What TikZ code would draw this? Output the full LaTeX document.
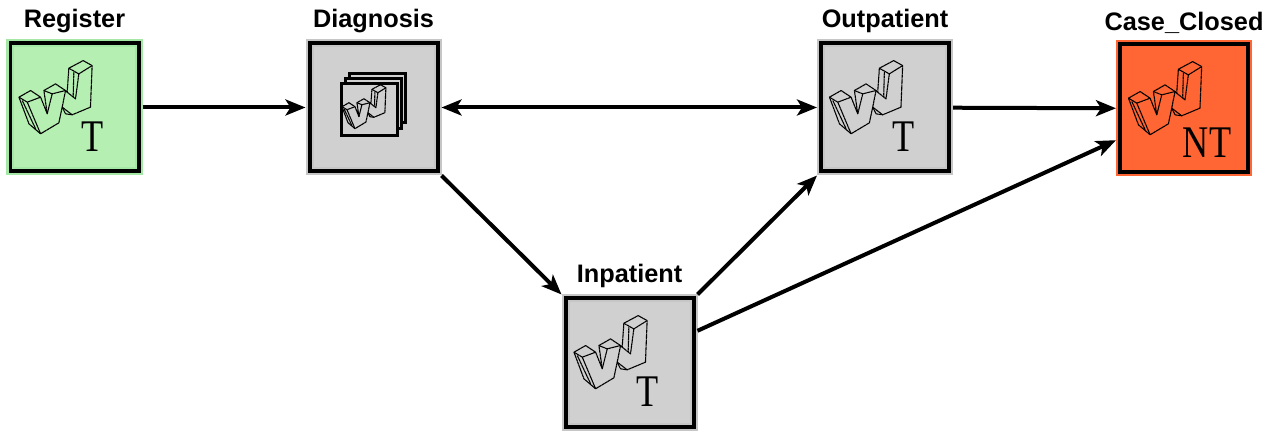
\documentclass[tikz,border=0pt]{standalone}
\usepackage{fontspec}
\setmainfont{Liberation Sans}
\newfontfamily\markfont{Liberation Serif}
\usetikzlibrary{arrows.meta, positioning}
\definecolor{taskgreen}{HTML}{B5EFB2}
\definecolor{taskedge}{HTML}{A5E8A5}
\definecolor{taskgrey}{HTML}{D0D0D0}
\definecolor{greyedge}{HTML}{C6C6C6}
\definecolor{taskorange}{HTML}{FF6633}

\tikzset{
    taskbox/.style={draw=#1, line width=0.02cm, double=black, double distance=0.04cm, rectangle, inner sep=0pt, outer sep=0.04cm, minimum size=1.28cm},
    tasklabel/.style={inner sep=0pt, font=\fontsize{7.2}{8}\selectfont\bfseries},
    typemark/.style={inner sep=0pt, font=\fontsize{10.3}{12}\markfont},
    flowtip/.tip={Stealth[length=0.2cm, width=0.16cm, inset=0.05cm]},
    flow/.style={line width=0.04cm, -flowtip},
    flowboth/.style={line width=0.04cm, flowtip-flowtip},
    wficon/.pic={
        \begin{scope}[x=0.00333cm, y=-0.00333cm, line width=0.011cm, line join=round, dash pattern=on 0.03cm off 0.004cm]
            % outline
            \draw (-167,-31) -- (-137,49) -- (-102,79) -- (-47,46) -- (-37,-1) -- (-7,22) -- (48,-1) -- (53,-126) -- (26,-141) -- (-17,-118) -- (-22,-46) -- (-27,-51) -- (-57,-71) -- (-92,-51) -- (-82,19) -- (-102,-31) -- (-132,-51) -- cycle;
            % left prong
            \draw (-167,-31) -- (-142,-16) -- (-102,-31);
            \draw (-142,-16) -- (-102,79);
            \draw (-157,-21) -- (-117,64);
            % middle prong
            \draw (-92,-51) -- (-67,-41) -- (-27,-51);
            \draw (-67,-41) -- (-82,19);
            \draw (-27,-51) -- (-37,-1);
            \draw (-37,-1) -- (-27,19) -- (-7,22);
            % right prong
            \draw (-17,-118) -- (13,-101) -- (53,-126);
            \draw (13,-101) -- (3,-26) -- (-22,-46);
            \draw (-2,-106) -- (-4,-31);
        \end{scope}
    },
    wfstack/.pic={
        \begin{scope}[x=0.00333cm, y=-0.00333cm, line width=0.03cm, line join=miter]
            \draw (-84,-71) |- (84,-87) -- (84,64) -- (71,64);
            \draw (-71,-87) |- (96,-103) -- (96,44) -- (84,44);
            \draw (-96,-71) rectangle (71,84);
        \end{scope}
        \pic[scale=0.6, xshift=0.03cm, yshift=-0.09cm] {wficon};
    }
}

\begin{document}
\begin{tikzpicture}
    \useasboundingbox (0,0) rectangle (12.83,-4.31);

    % Box for Register
    \node[taskbox=taskedge, fill=taskgreen] (Register) at (0.745,-1.075) {};
    \pic at (Register) {wficon};
    \node[typemark] (RegisterType) at (0.93,-1.37) {\scalebox{1}[1.25]{T}};
    \node[tasklabel, above=0.06cm of Register] (RegisterLabel) {Register};

    % Box for Diagnosis
    \node[taskbox=greyedge, fill=taskgrey] (Diagnosis) at (3.735,-1.075) {};
    \pic at (Diagnosis) {wfstack};
    \node[tasklabel, above=0.06cm of Diagnosis] (DiagnosisLabel) {Diagnosis};

    % Box for Outpatient
    \node[taskbox=greyedge, fill=taskgrey] (Outpatient) at (8.85,-1.075) {};
    \pic at (Outpatient) {wficon};
    \node[typemark] (OutpatientType) at (9.04,-1.37) {\scalebox{1}[1.25]{T}};
    \node[tasklabel, above=0.06cm of Outpatient] (OutpatientLabel) {Outpatient};

    % Box for Case_Closed
    \node[taskbox=taskorange, fill=taskorange] (CaseClosed) at (11.84,-1.085) {};
    \pic at (CaseClosed) {wficon};
    \node[typemark] (CaseClosedType) at (12.07,-1.43) {\scalebox{1}[1.25]{NT}};
    \node[tasklabel, above=0.06cm of CaseClosed] (CaseClosedLabel) {Case\_Closed};

    % Box for Inpatient
    \node[taskbox=greyedge, fill=taskgrey] (Inpatient) at (6.295,-3.625) {};
    \pic at (Inpatient) {wficon};
    \node[typemark] (InpatientType) at (6.48,-3.92) {\scalebox{1}[1.25]{T}};
    \node[tasklabel, above=0.06cm of Inpatient] (InpatientLabel) {Inpatient};

    % Arrows
    \path [flow] (Register) edge (Diagnosis);
    \path [flowboth] (Diagnosis) edge (Outpatient);
    \path [flow] (Outpatient) edge (CaseClosed);
    \path [flow] (Diagnosis.south east) edge (Inpatient.north west);
    \path [flow] (Inpatient.north east) edge (Outpatient.south west);
    \path [flow] (Inpatient.25) edge (CaseClosed.205);
\end{tikzpicture}
\end{document}
